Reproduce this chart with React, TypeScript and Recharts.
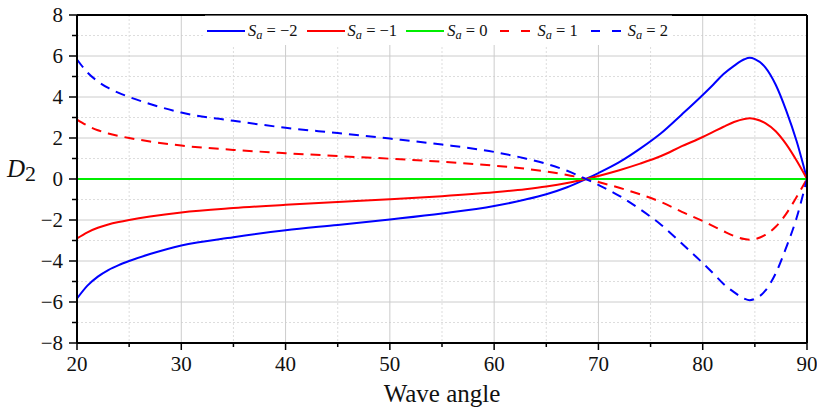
import React from 'react';
import {
  LineChart,
  Line,
  XAxis,
  YAxis,
  CartesianGrid,
  ReferenceLine,
  Legend,
} from 'recharts';

const SERIF = 'Liberation Serif, Times New Roman, serif';

// wave angle samples
const angles = [
  20, 21, 22, 23, 24, 25, 27, 30, 35, 40, 45, 50, 55, 60, 63, 65, 67, 68.8, 70, 72, 74, 76, 78, 80,
  81, 82, 83, 84, 84.5, 85, 86, 87, 88, 89, 90,
];

// D2 for each Sa
const saMinus2 = [
  -5.83, -5.2, -4.76, -4.44, -4.2, -4.0, -3.66, -3.24, -2.84, -2.5, -2.24, -1.97, -1.68, -1.32, -1.0,
  -0.74, -0.4, 0, 0.29, 0.82, 1.48, 2.23, 3.15, 4.1, 4.6, 5.12, 5.52, 5.84, 5.91, 5.85, 5.45, 4.6,
  3.35, 1.85, 0,
];
const saMinus1 = [
  -2.9, -2.6, -2.38, -2.22, -2.1, -2.0, -1.83, -1.63, -1.42, -1.26, -1.12, -0.99, -0.84, -0.65, -0.5,
  -0.37, -0.2, 0, 0.15, 0.43, 0.75, 1.12, 1.6, 2.05, 2.3, 2.55, 2.78, 2.93, 2.96, 2.93, 2.73, 2.33,
  1.7, 0.9, 0,
];
const saZero = [
  0, 0, 0, 0, 0, 0, 0, 0, 0, 0, 0, 0, 0, 0, 0, 0, 0, 0, 0, 0, 0, 0, 0, 0, 0, 0, 0, 0, 0, 0, 0, 0, 0,
  0, 0,
];
const saPlus1 = [
  2.9, 2.6, 2.38, 2.22, 2.1, 2.0, 1.83, 1.63, 1.42, 1.26, 1.12, 0.99, 0.84, 0.65, 0.5, 0.37, 0.2, 0,
  -0.15, -0.43, -0.75, -1.12, -1.6, -2.05, -2.3, -2.55, -2.78, -2.93, -2.96, -2.93, -2.73, -2.33,
  -1.7, -0.88, 0,
];
const saPlus2 = [
  5.83, 5.2, 4.76, 4.44, 4.2, 4.0, 3.66, 3.24, 2.84, 2.5, 2.24, 1.97, 1.68, 1.32, 1.0, 0.74, 0.4, 0,
  -0.29, -0.82, -1.48, -2.23, -3.15, -4.1, -4.6, -5.12, -5.52, -5.84, -5.91, -5.85, -5.45, -4.6,
  -3.35, -1.9, 0,
];

const xTicks = [20, 25, 30, 35, 40, 45, 50, 55, 60, 65, 70, 75, 80, 85, 90];
const yTicks = [-8, -7, -6, -5, -4, -3, -2, -1, 0, 1, 2, 3, 4, 5, 6, 7, 8];
const xMajorGrid = [30, 40, 50, 60, 70, 80];
const xMinorGrid = [25, 35, 45, 55, 65, 75, 85];
const yMajorGrid = [-6, -4, -2, 0, 2, 4, 6];
const yMinorGrid = [-7, -5, -3, -1, 1, 3, 5, 7];

const series = [
  { key: 'm2', label: '\u22122', color: '#0000ff', dashed: false, values: saMinus2 },
  { key: 'm1', label: '\u22121', color: '#ff0000', dashed: false, values: saMinus1 },
  { key: 'z', label: '0', color: '#00ee00', dashed: false, values: saZero },
  { key: 'p1', label: '1', color: '#ff0000', dashed: true, values: saPlus1 },
  { key: 'p2', label: '2', color: '#0000ff', dashed: true, values: saPlus2 },
];

const data = angles.map((a, i) => {
  const row: Record<string, number> = { angle: a };
  series.forEach((s) => {
    row[s.key] = s.values[i];
  });
  return row;
});

const Y_TICK_SIZE = 8;
const Y_TICK_MARGIN = 6;
const X_TICK_SIZE = 7;
const X_TICK_MARGIN = 7;

const fmt = (v: number) => (v < 0 ? `\u2212${Math.abs(v)}` : `${v}`);

function YTick(props: any) {
  const { x, y, payload } = props;
  const v = payload.value as number;
  const major = v % 2 === 0;
  const axisX = x + Y_TICK_MARGIN + Y_TICK_SIZE;
  return (
    <g>
      <line x1={axisX - (major ? 8 : 5)} y1={y} x2={axisX} y2={y} stroke="#000" strokeWidth={1.5} />
      {major && (
        <text x={x} y={y} dy={7} textAnchor="end" style={{ fontFamily: SERIF }} fontSize={21} fill="#111">
          {fmt(v)}
        </text>
      )}
    </g>
  );
}

function XTick(props: any) {
  const { x, y, payload } = props;
  const v = payload.value as number;
  const major = v % 10 === 0;
  const axisY = y - X_TICK_MARGIN - X_TICK_SIZE;
  return (
    <g>
      <line x1={x} y1={axisY} x2={x} y2={axisY + (major ? 7 : 4)} stroke="#000" strokeWidth={1.5} />
      {major && (
        <text x={x} y={y} dy={14} textAnchor="middle" style={{ fontFamily: SERIF }} fontSize={21} fill="#111">
          {v}
        </text>
      )}
    </g>
  );
}

function YLabel(props: any) {
  const { viewBox } = props;
  const cy = viewBox.y + viewBox.height / 2;
  return (
    <text x={viewBox.x + 7} y={cy - 2} style={{ fontFamily: SERIF }} fontSize={25} fill="#111">
      <tspan fontStyle="italic">D</tspan>
      <tspan fontSize={22} dy={4}>
        2
      </tspan>
    </text>
  );
}

function XLabel(props: any) {
  const { viewBox } = props;
  return (
    <text
      x={viewBox.x + viewBox.width / 2}
      y={viewBox.y + 59}
      textAnchor="middle"
      style={{ fontFamily: SERIF }}
      fontSize={25}
      fill="#111"
    >
      Wave angle
    </text>
  );
}

function LegendBox() {
  return (
    <div
      style={{
        display: 'flex',
        alignItems: 'center',
        background: '#fff',
        borderTop: '1px solid #666',
        height: 30,
        paddingLeft: 2,
        fontFamily: SERIF,
        fontSize: 16.5,
        color: '#111',
        boxSizing: 'border-box',
      }}
    >
      {series.map((s) => (
        <div key={s.key} style={{ display: 'flex', alignItems: 'center', marginRight: 9 }}>
          <svg width={38} height={4}>
            {s.dashed ? (
              <>
                <line x1={4} y1={2} x2={13} y2={2} stroke={s.color} strokeWidth={2} />
                <line x1={25} y1={2} x2={34} y2={2} stroke={s.color} strokeWidth={2} />
              </>
            ) : (
              <line x1={0} y1={2} x2={38} y2={2} stroke={s.color} strokeWidth={2} />
            )}
          </svg>
          <span style={{ marginLeft: 3, whiteSpace: 'nowrap' }}>
            <i>S</i>
            <i style={{ fontSize: '0.75em', position: 'relative', top: '0.3em' }}>a</i> = {s.label}
          </span>
        </div>
      ))}
    </div>
  );
}

export default function App() {
  return (
    <div style={{ position: 'absolute', left: 0, top: 0, background: '#fff' }}>
      <LineChart
        width={817}
        height={409}
        data={data}
        margin={{ top: 15, right: 10, bottom: 0, left: 0 }}
      >
        <CartesianGrid
          stroke="#dddddd"
          strokeDasharray="2 2"
          horizontalValues={yMinorGrid}
          verticalValues={xMinorGrid}
        />
        <CartesianGrid stroke="#cccccc" horizontalValues={yMajorGrid} verticalValues={xMajorGrid} />
        <XAxis
          dataKey="angle"
          type="number"
          domain={[20, 90]}
          ticks={xTicks}
          interval={0}
          height={66}
          tickSize={X_TICK_SIZE}
          tickMargin={X_TICK_MARGIN}
          tickLine={false}
          tick={<XTick />}
          axisLine={{ stroke: '#000', strokeWidth: 2 }}
          label={<XLabel />}
        />
        <YAxis
          type="number"
          domain={[-8, 8]}
          ticks={yTicks}
          interval={0}
          width={77}
          tickSize={Y_TICK_SIZE}
          tickMargin={Y_TICK_MARGIN}
          tickLine={false}
          tick={<YTick />}
          axisLine={{ stroke: '#000', strokeWidth: 2 }}
          label={<YLabel />}
        />
        {series.map((s) => (
          <Line
            key={s.key}
            dataKey={s.key}
            type="monotone"
            stroke={s.color}
            strokeWidth={2}
            strokeDasharray={s.dashed ? '10 7' : undefined}
            dot={false}
            activeDot={false}
            isAnimationActive={false}
          />
        ))}
        <ReferenceLine y={8} stroke="#000" strokeWidth={2} />
        <ReferenceLine x={90} stroke="#000" strokeWidth={2} />
        <Legend
          layout="horizontal"
          verticalAlign="middle"
          align="center"
          content={<LegendBox />}
          wrapperStyle={{ left: 205, top: 15, width: 467, height: 30 }}
        />
      </LineChart>
    </div>
  );
}
